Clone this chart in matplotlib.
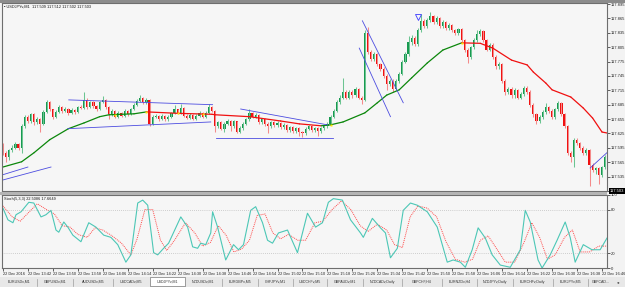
import numpy as np
import matplotlib.pyplot as plt
from matplotlib.patches import Rectangle

W, H = 625, 287
BASE = 117.0  # prices below are points above 117.000 (1 point = 0.001)

# candles, one per minute
open_first = 600
closes = [585, 575, 590, 595, 603, 595, 640, 660, 650, 665,
          648, 655, 645, 670, 690, 675, 660, 670, 680, 672,
          676, 668, 674, 670, 680, 678, 695, 680, 690, 682,
          676, 690, 695, 680, 665, 672, 660, 668, 662, 672,
          665, 675, 685, 692, 698, 690, 695, 645, 660, 662,
          656, 662, 655, 660, 667, 675, 668, 678, 662, 658,
          664, 656, 662, 668, 660, 668, 680, 672, 640, 648,
          635, 645, 652, 640, 650, 628, 636, 645, 655, 668,
          660, 664, 648, 655, 645, 640, 648, 642, 646, 638,
          642, 632, 638, 630, 636, 628, 625, 635, 640, 632,
          636, 630, 636, 640, 645, 660, 672, 690, 700, 712,
          700, 712, 705, 718, 700, 695, 835, 795, 780, 790,
          770, 760, 745, 728, 735, 718, 735, 750, 775, 790,
          815, 825, 812, 840, 860, 850, 862, 870, 858, 866,
          850, 858, 845, 852, 840, 835, 842, 820, 800, 785,
          805, 820, 832, 838, 820, 800, 810, 785, 765, 770,
          735, 712, 718, 705, 715, 700, 708, 720, 712, 685,
          665, 650, 660, 670, 680, 672, 660, 675, 688, 665,
          640, 585, 575, 612, 605, 595, 585, 590, 560, 548,
          552, 538, 555, 575]
highs = [606, 588, 592, 600, 608, 606, 645, 664, 663, 668,
         668, 660, 657, 673, 694, 692, 677, 674, 684, 682,
         680, 678, 678, 676, 683, 684, 712, 700, 693, 692,
         684, 693, 703, 697, 682, 676, 674, 671, 670, 675,
         674, 678, 688, 696, 706, 701, 699, 697, 663, 666,
         664, 665, 664, 663, 670, 684, 677, 686, 680, 665,
         667, 666, 665, 671, 670, 671, 686, 682, 674, 652,
         650, 648, 656, 654, 653, 652, 640, 648, 658, 675,
         670, 668, 666, 658, 657, 648, 651, 650, 650, 648,
         646, 644, 641, 640, 639, 638, 631, 638, 643, 642,
         639, 638, 639, 643, 648, 663, 676, 694, 705, 740,
         715, 716, 715, 722, 720, 703, 840, 848, 799, 795,
         793, 773, 763, 748, 739, 738, 738, 754, 779, 795,
         828, 830, 828, 845, 875, 864, 866, 878, 872, 870,
         868, 862, 860, 856, 854, 843, 846, 845, 823, 803,
         808, 824, 840, 842, 840, 823, 814, 813, 788, 774,
         773, 738, 722, 721, 719, 718, 712, 724, 723, 716,
         688, 668, 664, 674, 688, 683, 675, 679, 693, 690,
         668, 643, 588, 616, 615, 608, 598, 594, 593, 563,
         556, 555, 558, 580]
lows = [580, 566, 570, 586, 592, 590, 585, 636, 646, 647,
        642, 645, 628, 642, 668, 672, 655, 657, 667, 668,
        669, 664, 665, 666, 668, 675, 676, 677, 678, 679,
        672, 674, 688, 676, 655, 662, 657, 657, 659, 660,
        662, 663, 673, 683, 690, 687, 687, 640, 642, 657,
        652, 653, 652, 652, 658, 665, 665, 666, 659, 655,
        655, 653, 653, 660, 657, 658, 666, 669, 628, 637,
        632, 628, 642, 630, 637, 625, 625, 633, 642, 652,
        657, 657, 645, 645, 641, 625, 637, 639, 639, 634,
        635, 628, 629, 626, 627, 620, 618, 622, 632, 628,
        629, 620, 627, 633, 637, 642, 657, 669, 686, 697,
        696, 697, 700, 702, 696, 686, 692, 790, 776, 776,
        765, 755, 740, 715, 724, 712, 715, 731, 747, 771,
        786, 810, 808, 808, 836, 846, 846, 858, 854, 854,
        846, 846, 840, 841, 836, 831, 831, 815, 795, 772,
        781, 801, 816, 828, 816, 796, 796, 780, 760, 760,
        730, 706, 708, 700, 700, 696, 696, 704, 708, 680,
        660, 645, 646, 656, 666, 668, 656, 656, 671, 661,
        636, 580, 565, 555, 600, 590, 580, 581, 515, 544,
        540, 520, 534, 551]

# moving average (read at a few bars)
ma_idx = [0, 6, 10, 15, 21, 26, 31, 34, 42, 46, 56, 67, 68, 79, 89, 95, 102,
          105, 109, 116, 120, 123, 127, 131, 136, 141, 147, 153, 157, 163,
          168, 170, 174, 176, 182, 186, 189, 192, 193.6]
ma_pts = [555, 566, 585, 612, 635, 647, 660, 664, 666, 670, 667, 665, 664,
          660, 651, 645, 641, 643, 649, 668, 689, 705, 716, 741, 772, 799,
          814, 813, 803, 778, 768, 753, 730, 716, 701, 678, 657, 628, 626]
yellow_idx = [36, 46, 56, 64, 105, 147]

# drawn trend lines: bar, points -> bar, points
tl_x0 = [21.1, 20.8, 76.2, 68.2, 115.2, 114.2, 0.0, 0.0, 188.2]
tl_p0 = [695, 635, 676, 616, 860, 803, 528, 539, 553]
tl_x1 = [67.2, 66.6, 104.0, 105.9, 128.3, 124.2, 15.4, 8.0, 193.6]
tl_p1 = [685, 649, 643, 616, 689, 660, 555, 555, 585]
arrow_idx, arrow_pts = 133, 868

# stochastic %K and signal
k_idx = [0, 1.6, 3.2, 4.2, 5.8, 8.3, 9.9, 12.2, 13.8, 15.4, 17, 17.9, 19.5,
         20.8, 22.4, 25, 27.5, 29.8, 32.3, 34.6, 36.8, 39.4, 41, 43.2, 44.8,
         46.4, 48.3, 49.6, 51.5, 53.1, 57, 59.2, 60.8, 62.4, 63.4, 65, 66.6,
         67.2, 68.8, 71.4, 73.9, 75.5, 77.1, 79.4, 81, 83.2, 84.8, 86.4, 88.3,
         91.2, 94.4, 97.6, 100.2, 102.4, 104.3, 105.9, 108.8, 111.4, 114.6,
         115.5, 118.4, 121, 122.6, 124.2, 126.4, 128.3, 130.6, 132.8, 136,
         139.2, 142.4, 144.3, 146.6, 148.2, 150.4, 152.3, 154.6, 156.8, 159.4,
         162.6, 165.8, 167.4, 169, 171.5, 172.8, 175.4, 177.6, 180.2, 181.8,
         183.4, 186, 188.8, 191.4, 193.6]
k_val = [82, 66, 62, 73, 77, 90, 89, 70, 73, 79, 52, 49, 63, 56, 45, 36, 62,
         56, 45, 42, 32, 8, 18, 89, 93, 86, 21, 18, 27, 34, 70, 56, 29, 27, 34,
         32, 48, 77, 56, 11, 32, 25, 32, 79, 84, 62, 38, 34, 48, 52, 21, 75,
         56, 62, 90, 95, 93, 66, 48, 42, 68, 55, 48, 14, 27, 79, 89, 86, 77,
         56, 8, 11, 8, 1, 25, 55, 41, 18, 4, 1, 25, 79, 63, 11, 0, 18, 38, 63,
         42, 8, 32, 25, 25, 41]
s_idx = [0, 3, 5.5, 8, 11, 14, 16.5, 19, 21.5, 24, 27, 29.5, 32, 35, 38, 41,
         43, 45.5, 48, 50.5, 52.5, 55, 58.5, 61.5, 64, 66.5, 69, 71.5, 74,
         76.5, 79, 81.5, 84, 86.5, 89, 91.5, 94.5, 97, 100, 102.5, 105.5,
         108.5, 111.5, 114.5, 117, 120, 123, 125.5, 128, 130.5, 133, 136, 139,
         142, 145, 148, 150.5, 153, 155.5, 158, 161, 164, 167, 169.5, 172,
         174.5, 177, 180, 182.5, 185, 188, 191, 193.6]
s_val = [85, 70, 64, 75, 88, 80, 74, 58, 56, 46, 42, 55, 52, 44, 34, 18, 40,
         80, 80, 38, 24, 38, 62, 48, 30, 35, 58, 45, 22, 26, 38, 72, 74, 48,
         40, 46, 38, 38, 62, 64, 80, 92, 80, 58, 50, 60, 52, 32, 28, 70, 85,
         82, 70, 36, 12, 8, 12, 38, 44, 28, 8, 8, 35, 62, 42, 12, 18, 42, 52,
         22, 22, 30, 30]

price_ticks = [117.505, 117.535, 117.565, 117.595, 117.625, 117.655, 117.685,
               117.715, 117.745, 117.775, 117.805, 117.835, 117.865, 117.895]
time_labels = ["22 Dec 2016", "22 Dec 13:42", "22 Dec 13:50", "22 Dec 13:58",
               "22 Dec 14:06", "22 Dec 14:14", "22 Dec 14:22", "22 Dec 14:30",
               "22 Dec 14:38", "22 Dec 14:46", "22 Dec 14:54", "22 Dec 15:02",
               "22 Dec 15:10", "22 Dec 15:18", "22 Dec 15:26", "22 Dec 15:34",
               "22 Dec 15:42", "22 Dec 15:50", "22 Dec 15:58", "22 Dec 16:06",
               "22 Dec 16:14", "22 Dec 16:22", "22 Dec 16:30", "22 Dec 16:38",
               "22 Dec 16:46"]
tab_names = ["EURUSDv,M1", "GBPUSDv,M1", "AUDUSDv,M5", "USDCADv,M5",
             "USDJPYv,M1", "NZDUSDv,M1", "EURGBPv,M5", "CHFJPYv,M1",
             "USDCHFv,M5", "GBPAUDv,M1", "NZDCADv,Daily", "GBPCHF,H4",
             "EURNZDv,H4", "NZDJPYv,Daily", "EURCHFv,Daily", "EURJPYv,M5",
             "GBPCAD..."]
tab_seps = [37, 73, 113, 150, 185, 222, 258, 293, 327, 363, 402, 442, 477,
            513, 553, 588]
active_tab = 4
title_text = "USDJPYv,M1  117.509 117.512 117.502 117.503"
stoch_text = "Stoch(5,3,3) 22.5086 17.6649"
last_price = "117.503"

plt.rcParams['font.family'] = ['Liberation Sans', 'DejaVu Sans']


def rect(x0, y0, x1, y1):
    return [x0 / W, 1 - y1 / H, (x1 - x0) / W, (y1 - y0) / H]


fig = plt.figure(figsize=(W / 100, H / 100), dpi=100, facecolor='#f3f3f3')
ax = fig.add_axes(rect(2, 3, 607, 191), facecolor='#f6f6f6')
ax2 = fig.add_axes(rect(2, 195, 607, 268), facecolor='#f6f6f6')
tabs = fig.add_axes(rect(0, 277, 625, 287), facecolor='#e6e6e6')

# candles
c = BASE + np.array(closes) / 1000
o = np.concatenate([[BASE + open_first / 1000], c[:-1]])
h = BASE + np.array(highs) / 1000
l = BASE + np.array(lows) / 1000
x = np.arange(len(c))
up = c >= o
ax.vlines(x[up], l[up], h[up], color='#6cc491', lw=0.75)
ax.vlines(x[~up], l[~up], h[~up], color='#f48a8a', lw=0.75)
body = np.maximum(np.abs(c - o), 0.0012)
bot = np.minimum(o, c)
ax.bar(x[up], body[up], bottom=bot[up], width=0.7, color='#179a50', lw=0)
ax.bar(x[~up], body[~up], bottom=bot[~up], width=0.7, color='#f01010', lw=0)

# moving average, green while rising and red while falling
ma_p = BASE + np.array(ma_pts) / 1000
for i in range(len(ma_idx) - 1):
    col = '#0b870b' if ma_p[i + 1] > ma_p[i] else '#f01010'
    ax.plot(ma_idx[i:i + 2], ma_p[i:i + 2], color=col, lw=0.9,
            solid_capstyle='round')
ax.plot(yellow_idx, np.interp(yellow_idx, ma_idx, ma_p), ls='none',
        marker='s', ms=1.5, color='#ffe600', mec='none')

for a, b, cc, d in zip(tl_x0, tl_p0, tl_x1, tl_p1):
    ax.plot([a, cc], [BASE + b / 1000, BASE + d / 1000], color='#4c4ce0',
            lw=0.6)
ax.plot(arrow_idx, BASE + arrow_pts / 1000, marker='v', ms=4.5, mfc='none',
        mec='#3a3aff', mew=0.6)

ax.set_xlim(-0.3, 193.6)
ax.set_ylim(117.5054, 117.8971)
ax.yaxis.tick_right()
ax.set_yticks(price_ticks)
ax.set_yticklabels([f"{p:.3f}" for p in price_ticks])
ax.tick_params(axis='y', labelsize=3, length=2, width=0.5, pad=1,
               colors='#222222')
ax.set_xticks([])
ax.text(0.004, 0.993, "\u25aa " + title_text, transform=ax.transAxes,
        fontsize=2.8, va='top', ha='left', color='#111111')
ax.text(1.005, 0.0, last_price, transform=ax.transAxes, fontsize=3,
        color='white', va='center', ha='left',
        bbox=dict(boxstyle='square,pad=0.15', fc='black', ec='none'))

# stochastic panel
ax2.plot(s_idx, s_val, color='#ff4a4a', lw=0.7, ls=(0, (1, 1)))
ax2.plot(k_idx, k_val, color='#4cc7b6', lw=0.8)
for lev in (80, 20):
    ax2.axhline(lev, color='#a8a8a8', lw=0.5, ls=(0, (1, 2)))
ax2.set_xlim(-0.3, 193.6)
ax2.set_ylim(0, 100)
ax2.yaxis.tick_right()
ax2.set_yticks([0, 20, 80, 100])
ax2.set_yticklabels(["0", "20", "80", "100"])
ax2.tick_params(axis='y', labelsize=3, length=2, width=0.5, pad=1,
                colors='#222222')
ax2.set_xticks(np.arange(0, 193, 8))
ax2.set_xticklabels(time_labels, ha='left')
ax2.tick_params(axis='x', labelsize=2.8, length=2, width=0.5, pad=0.8,
                colors='#222222')
ax2.text(0.004, 0.975, stoch_text, transform=ax2.transAxes, fontsize=2.8,
         va='top', ha='left', color='#111111')

for a in (ax, ax2):
    for s in a.spines.values():
        s.set_color('#6e6e6e')
        s.set_linewidth(0.8)

# panel separator and top border
fig.add_artist(Rectangle((0, 1 - 195 / H), 607 / W, 3 / H,
                         transform=fig.transFigure, fc='#b4b4b4', ec='none'))
fig.add_artist(Rectangle((0, 1 - 3 / H), 1, 3 / H,
                         transform=fig.transFigure, fc='#8c8c8c', ec='none'))

# tab bar
tabs.set_xlim(0, W)
tabs.set_ylim(10, 0)
tabs.axis('off')
tabs.add_patch(Rectangle((0, 0), W, 10, fc='#e8e8e8', ec='none'))
edges = [2] + tab_seps + [614]
for k, name in enumerate(tab_names):
    x0, x1 = edges[k], edges[k + 1]
    if k == active_tab:
        tabs.add_patch(Rectangle((x0, 0.3), x1 - x0, 8.5, fc='white',
                                 ec='#7a7a7a', lw=0.5))
    tabs.text((x0 + x1) / 2, 4.8, name, fontsize=2.6, ha='center',
              va='center', color='#333333')
for s in tab_seps:
    tabs.plot([s, s], [1.5, 8.5], color='#9c9c9c', lw=0.5)
tabs.text(619, 4.8, "\u25c2\u25b8", fontsize=2.6, ha='center', va='center',
          color='#333333')

fig.savefig('out.png', dpi=100, facecolor=fig.get_facecolor())
